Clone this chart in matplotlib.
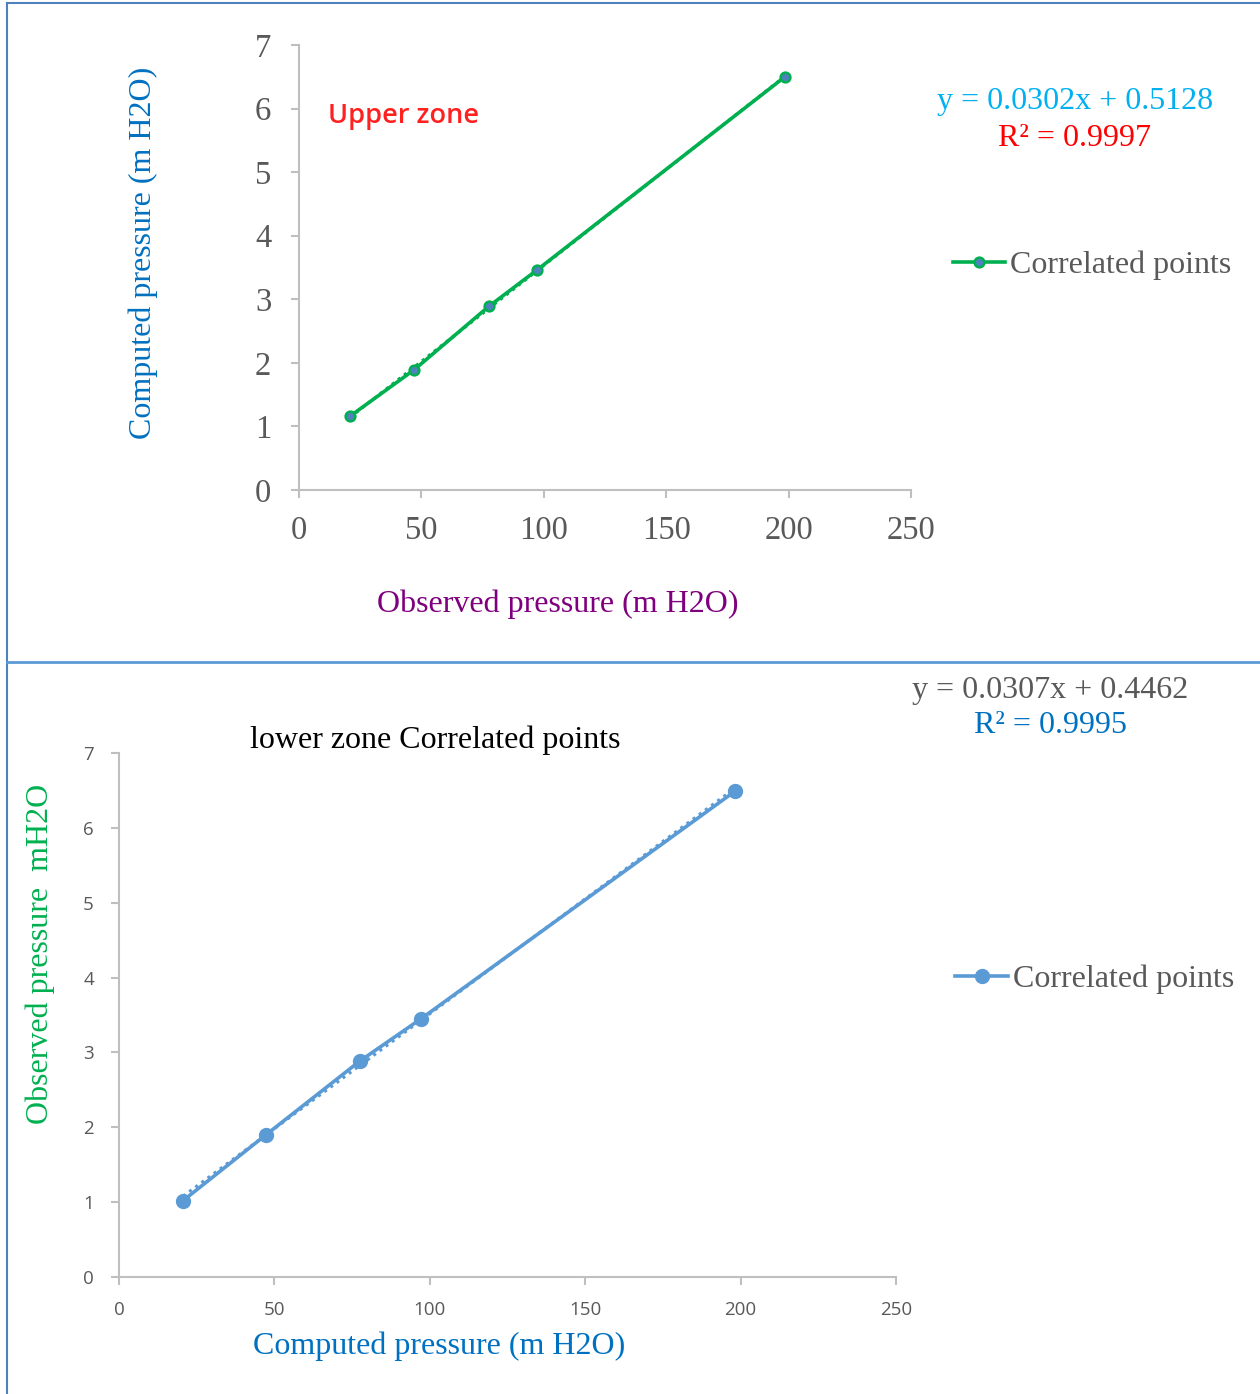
import matplotlib
matplotlib.use("Agg")
import matplotlib.pyplot as plt
from matplotlib.lines import Line2D
import numpy as np

# Upper zone data
upper_x = [20.8, 47.0, 77.6, 97.2, 198.5]
upper_y = [1.16, 1.89, 2.89, 3.46, 6.50]
upper_fit = [0.0302, 0.5128]
# Lower zone data
lower_x = [20.6, 47.3, 77.5, 97.2, 198.2]
lower_y = [1.02, 1.90, 2.885, 3.45, 6.49]
lower_fit = [0.0307, 0.4462]

x_ticks = [0, 50, 100, 150, 200, 250]
y_ticks = [0, 1, 2, 3, 4, 5, 6, 7]

SERIF = ["Liberation Serif", "DejaVu Serif"]
GRAY = "#595959"
SPINE = "#BFBFBF"
FS = 23
DY = 3  # small vertical offset for centred text (pixels)

fig = plt.figure(figsize=(12.6, 13.94), dpi=100)

def fy(py):
    return 1 - (py + DY) / 1394

def style_axes(ax, tick_font, tick_size):
    for s in ["top", "right"]:
        ax.spines[s].set_visible(False)
    for s in ["left", "bottom"]:
        ax.spines[s].set_color(SPINE)
        ax.spines[s].set_linewidth(1.5)
    ax.tick_params(axis="both", direction="out", length=6, width=1.5, color=SPINE,
                   labelcolor=GRAY, labelsize=tick_size)
    for lab in ax.get_xticklabels() + ax.get_yticklabels():
        lab.set_family(tick_font)

# ---------- Upper panel ----------
ax1 = fig.add_axes([299/1260, 1-490/1394, 612/1260, 445/1394])
ax1.set_xlim(0, 250)
ax1.set_ylim(0, 7)
ax1.set_xticks(x_ticks)
ax1.set_yticks(y_ticks)
xs = np.array([min(upper_x), max(upper_x)])
ax1.plot(xs, upper_fit[0]*xs + upper_fit[1], linestyle=(0, (1, 1.5)), color="#00B050", lw=2.2)
ax1.plot(upper_x, upper_y, color="#00B050", lw=2.6, marker="o", markersize=7,
         markerfacecolor="#4F81BD", markeredgecolor="#00B050", markeredgewidth=1.8)
style_axes(ax1, SERIF, 23.5)
ax1.tick_params(axis="x", pad=12)
ax1.tick_params(axis="y", pad=14)
fig.text(143/1260, 1-253/1394, "Computed pressure (m H2O)", rotation=90, ha="center", va="center",
         color="#0070C0", family=SERIF, fontsize=FS)
fig.text(558/1260, fy(601), "Observed pressure (m H2O)", ha="center", va="center",
         color="#7F007F", family=SERIF, fontsize=FS)
fig.text(328/1260, fy(113), "Upper zone", ha="left", va="center",
         color="#FF2020", family=["Open Sans", "DejaVu Sans"], fontsize=19.5, weight="semibold")
fig.text(1075/1260, fy(99), "y = 0.0302x + 0.5128", ha="center", va="center",
         color="#00B0F0", family=SERIF, fontsize=FS)
fig.text(1075/1260, fy(135), "R² = 0.9997", ha="center", va="center",
         color="#FF0000", family=SERIF, fontsize=FS)
fig.add_artist(Line2D([953/1260, 1005/1260], [1-262/1394]*2, color="#00B050", lw=2.6))
fig.add_artist(Line2D([979/1260], [1-262/1394], marker="o", markersize=7, markerfacecolor="#4F81BD",
                      markeredgecolor="#00B050", markeredgewidth=1.8, linestyle="none"))
fig.text(1010/1260, fy(262), "Correlated points", ha="left", va="center",
         color=GRAY, family=SERIF, fontsize=FS)

# ---------- Lower panel ----------
ax2 = fig.add_axes([119/1260, 1-1277/1394, 777/1260, 524/1394])
ax2.set_xlim(0, 250)
ax2.set_ylim(0, 7)
ax2.set_xticks(x_ticks)
ax2.set_yticks(y_ticks)
xs2 = np.array([min(lower_x), max(lower_x)])
ax2.plot(xs2, lower_fit[0]*xs2 + lower_fit[1], linestyle=(0, (1, 1.5)), color="#5B9BD5", lw=2.2)
ax2.plot(lower_x, lower_y, color="#5B9BD5", lw=2.6, marker="o", markersize=10,
         markerfacecolor="#5B9BD5", markeredgecolor="#5B9BD5")
style_axes(ax2, ["Open Sans", "DejaVu Sans"], 13.5)
ax2.tick_params(axis="x", pad=11)
ax2.tick_params(axis="y", pad=12)
fig.text(435/1260, fy(737), "lower zone Correlated points", ha="center", va="center",
         color="black", family=SERIF, fontsize=FS)
fig.text(40/1260, 1-954/1394, "Observed pressure  mH2O", rotation=90, ha="center", va="center",
         color="#00B050", family=SERIF, fontsize=FS)
fig.text(439/1260, fy(1343), "Computed pressure (m H2O)", ha="center", va="center",
         color="#0070C0", family=SERIF, fontsize=FS)
fig.text(1050/1260, fy(688), "y = 0.0307x + 0.4462", ha="center", va="center",
         color=GRAY, family=SERIF, fontsize=FS)
fig.text(1050/1260, fy(723), "R² = 0.9995", ha="center", va="center",
         color="#0070C0", family=SERIF, fontsize=FS)
fig.add_artist(Line2D([955/1260, 1008/1260], [1-976/1394]*2, color="#5B9BD5", lw=2.6))
fig.add_artist(Line2D([982/1260], [1-976/1394], marker="o", markersize=10, markerfacecolor="#5B9BD5",
                      markeredgecolor="#5B9BD5", linestyle="none"))
fig.text(1013/1260, fy(976), "Correlated points", ha="left", va="center",
         color=GRAY, family=SERIF, fontsize=FS)

# ---------- Borders ----------
bc = "#4F81BD"
fig.add_artist(Line2D([7/1260, 1], [1-3/1394]*2, color=bc, lw=1.5))
fig.add_artist(Line2D([7/1260]*2, [0, 1-3/1394], color=bc, lw=1.5))
fig.add_artist(Line2D([7/1260, 1], [1-662/1394]*2, color="#5B9BD5", lw=2))

fig.savefig("out.png", dpi=100)
